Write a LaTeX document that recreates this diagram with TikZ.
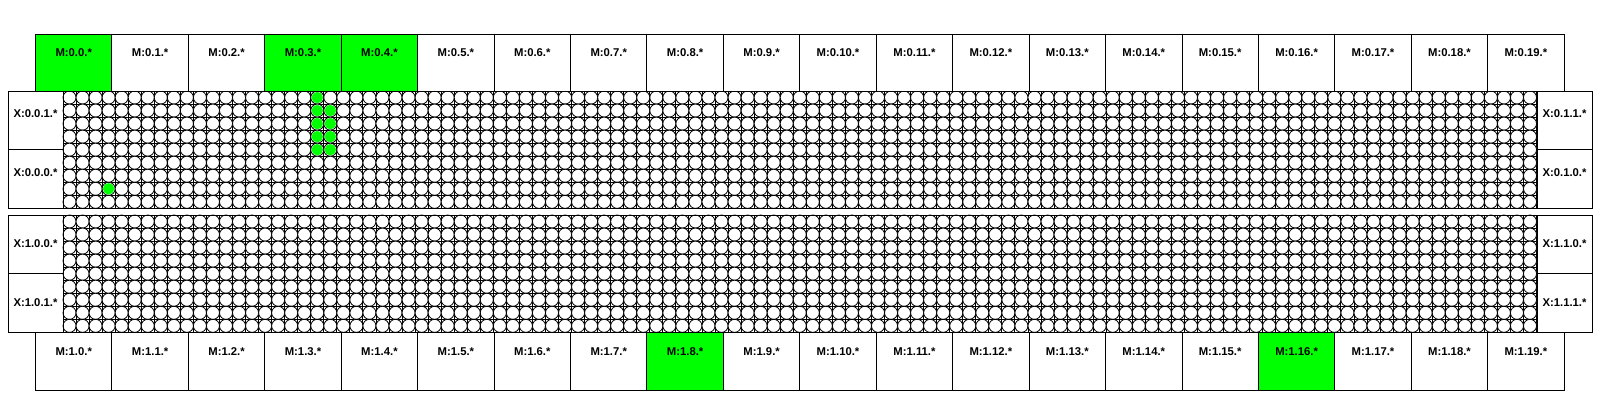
\documentclass[tikz,border=0pt]{standalone}
\usepackage{fontspec}
\setmainfont{Liberation Sans}
\usetikzlibrary{positioning}
\definecolor{ink}{HTML}{000000}
\definecolor{hit}{HTML}{00FF00}

\begin{document}
\begin{tikzpicture}[
  x=1pt,y=-1pt,
  every node/.style={font=\bfseries\fontsize{11.3}{13}\selectfont,align=center,inner sep=0pt,outer sep=0pt,draw=ink,line width=0.9pt},
  mcell/.style={anchor=north west,fill=white,minimum width=76.43pt,minimum height=57pt,text height=9pt,text depth=20.4pt},
  mlow/.style={mcell,minimum height=58pt,text depth=21.2pt},
  xtop/.style={anchor=north west,minimum width=55pt,minimum height=58.7pt,text height=9pt,text depth=14.6pt},
  xlow/.style={xtop,text depth=2.8pt},
  used/.style={fill=hit},
  site/.style={draw=ink,fill=white,line width=0.8pt},
  wire/.style={draw=ink,line width=0.9pt}
]
\useasboundingbox (0,0) rectangle (1600,400);

% fabric: 113 x 9 sites per half
\foreach \py in {91,215}{
  \begin{scope}[shift={(63,\py)}]
    \foreach \i in {0,...,113} \draw[wire] (\i*13.04,0) -- (\i*13.04,117.4);
    \foreach \j in {0,...,9} \draw[wire] (0,\j*13.04) -- (1473.5,\j*13.04);
    \foreach \i in {0,...,112}
      \foreach \j in {0,...,8}
        \path[site] (\i*13.04+6.52,\j*13.04+6.52) circle[radius=6.52pt];
  \end{scope}
}
\foreach \i/\j in {3/7,19/0,19/1,19/2,19/3,19/4,20/1,20/2,20/3,20/4}
  \path[site,draw=hit,fill=hit] (69.52+\i*13.04,97.52+\j*13.04) circle[radius=5.3pt];

\draw[wire] (8,91) rectangle (1592,208.4);
\draw[wire] (8,215) rectangle (1592,332.4);

% side blocks
\node[xtop] (x001) at (8,91) {X:0.0.1.*};
\node[xtop,below=0pt of x001.south west,anchor=north west] (x000) {X:0.0.0.*};
\node[xtop] (x011) at (1537,91) {X:0.1.1.*};
\node[xtop,below=0pt of x011.south west,anchor=north west] (x010) {X:0.1.0.*};
\node[xlow] (x100) at (8,215) {X:1.0.0.*};
\node[xlow,below=0pt of x100.south west,anchor=north west] (x101) {X:1.0.1.*};
\node[xlow] (x110) at (1537,215) {X:1.1.0.*};
\node[xlow,below=0pt of x110.south west,anchor=north west] (x111) {X:1.1.1.*};

% memory rows
\foreach \i in {0,...,19}{
  \node[mcell] (m0-\i) at (35.5+\i*76.43,34) {M:0.\i.*};
  \node[mlow] (m1-\i) at (35.5+\i*76.43,332.4) {M:1.\i.*};
}
\foreach \i in {0,3,4} \node[mcell,used] (m0-\i) at (35.5+\i*76.43,34) {M:0.\i.*};
\foreach \i in {8,16} \node[mlow,used] (m1-\i) at (35.5+\i*76.43,332.4) {M:1.\i.*};
\end{tikzpicture}
\end{document}
